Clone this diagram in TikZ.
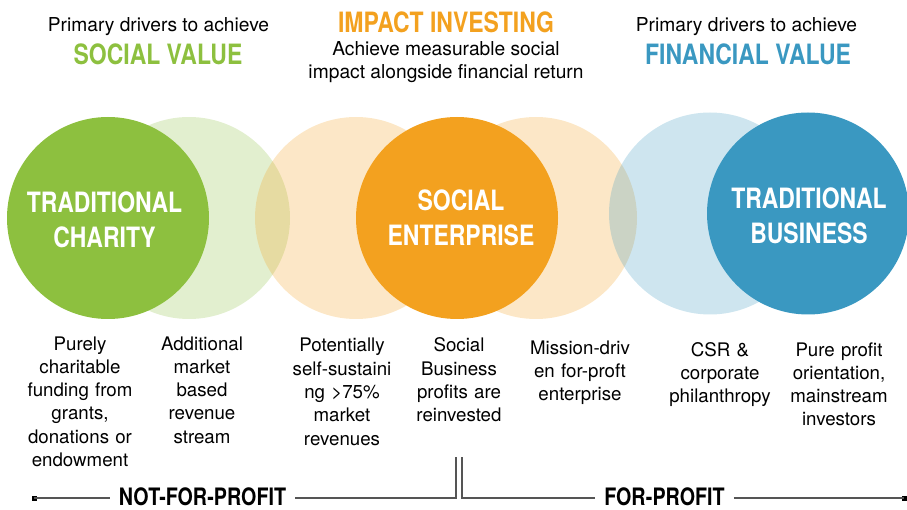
\documentclass[tikz,border=0pt]{standalone}
\usepackage{fontspec}
\setmainfont{TeX Gyre Heros}
\newfontfamily\headfont[FakeStretch=0.82]{TeX Gyre Heros}
\definecolor{cgreen}{HTML}{8DC03F}
\definecolor{corange}{HTML}{F3A11F}
\definecolor{cblue}{HTML}{3A98C1}
\definecolor{linegray}{HTML}{555555}
\begin{document}
\begin{tikzpicture}[x=1pt,y=-1pt,
  circ/.style={circle, inner sep=0pt, minimum size=202pt, draw=none},
  soft/.style={circ, fill=#1, fill opacity=0.25},
  hard/.style={circ, fill=#1},
  clabel/.style={text=white, font=\headfont\bfseries\fontsize{28}{34.5}\selectfont, align=center, anchor=base, text width=200pt, inner sep=0pt},
  desc/.style={font=\fontsize{18.7}{23.3}\selectfont, align=center, anchor=base, text width=135pt, inner sep=0pt},
  head/.style={font=\headfont\bfseries\fontsize{28}{30}\selectfont, anchor=base, inner sep=0pt},
  sub/.style={font=\fontsize{19.2}{23}\selectfont, anchor=base, inner sep=0pt},
  axislabel/.style={font=\headfont\bfseries\fontsize{24}{26}\selectfont, anchor=base, inner ysep=0pt, inner xsep=9pt},
  rule/.style={draw=linegray, line width=1.8pt},
  endmark/.style={fill=black, inner sep=0pt, minimum size=5pt}
]
\useasboundingbox (0,0) rectangle (907,510);

% soft circles
\node[soft=cgreen]  (sg)  at (189,218) {};
\node[soft=corange] (so1) at (356,218) {};
\node[soft=corange] (so2) at (536,218) {};
\node[soft=cblue]   (sb)  at (710,213.5) {};
% solid circles
\node[hard=cgreen]  (tc) at (108,218) {};
\node[hard=corange] (se) at (457,218) {};
\node[hard=cblue]   (tb) at (808,213.5) {};

% circle labels
\node[clabel] (tcl) at (104.5,213) {TRADITIONAL\\CHARITY};
\node[clabel] (sel) at (461,211) {SOCIAL\\ENTERPRISE};
\node[clabel] (tbl) at (809,209) {TRADITIONAL\\BUSINESS};

% top texts
\node[sub] (pd1) at (158.5,32) {Primary drivers to achieve};
\node[head, text=cgreen] (sv) at (158,65) {SOCIAL VALUE};
\node[head, text=corange] (ii) at (446,33) {IMPACT INVESTING};
\node[sub] (am1) at (446,56) {Achieve measurable social};
\node[sub] (am2) at (446,79) {impact alongside financial return};
\node[sub] (pd2) at (746.5,32) {Primary drivers to achieve};
\node[head, text=cblue] (fv) at (748,65) {FINANCIAL VALUE};

% descriptions
\node[desc] (d1) at (80,350) {Purely\\charitable\\funding from\\grants,\\donations or\\endowment};
\node[desc] (d2) at (202,350) {Additional\\market\\based\\revenue\\stream};
\node[desc] (d3) at (342,352) {Potentially\\self-sustaini\\ng >75\%\\market\\revenues};
\node[desc] (d4) at (459,352) {Social\\Business\\profits are\\reinvested};
\node[desc] (d5) at (580,354) {Mission-driv\\en for-proft\\enterprise};
\node[desc] (d6) at (720,356) {CSR \&\\corporate\\philanthropy};
\node[desc] (d7) at (839,356) {Pure profit\\orientation,\\mainstream\\investors};

% bottom axis
\node[axislabel] (nfp) at (202.5,505.5) {NOT-FOR-PROFIT};
\node[axislabel] (fp) at (664.5,505.5) {FOR-PROFIT};
\node[endmark] (lm) at (34,498) {};
\node[endmark] (rm) at (904,498) {};
\coordinate (j1) at (456,498);
\coordinate (j1t) at (456,457);
\coordinate (j2t) at (462,457);
\coordinate (j2) at (462,498);
\draw[rule] (lm.center) -- (lm.center -| nfp.west);
\draw[rule] (nfp.east |- j1) -- (j1) -- (j1t);
\draw[rule] (j2t) -- (j2) -- (j2 -| fp.west);
\draw[rule] (fp.east |- rm) -- (rm.center);
\end{tikzpicture}
\end{document}
